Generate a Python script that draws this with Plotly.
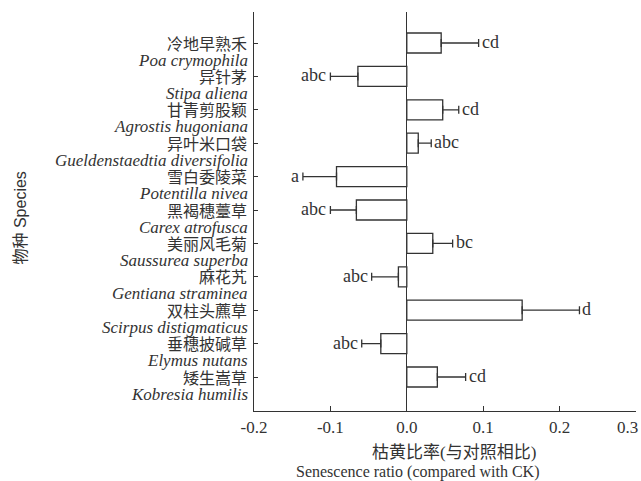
import plotly.graph_objects as go

# Species, top to bottom
species_cn = ["冷地早熟禾", "异针茅", "甘青剪股颖", "异叶米口袋", "雪白委陵菜",
              "黑褐穗薹草", "美丽风毛菊", "麻花艽", "双柱头藨草", "垂穗披碱草", "矮生嵩草"]
species_lat = ["Poa crymophila", "Stipa aliena", "Agrostis hugoniana",
               "Gueldenstaedtia diversifolia", "Potentilla nivea", "Carex atrofusca",
               "Saussurea superba", "Gentiana straminea", "Scirpus distigmaticus",
               "Elymus nutans", "Kobresia humilis"]
ratio = [0.045, -0.064, 0.047, 0.015, -0.092, -0.066, 0.034, -0.011, 0.151, -0.034, 0.040]
err = [0.049, 0.036, 0.021, 0.017, 0.044, 0.034, 0.026, 0.035, 0.075, 0.025, 0.037]
letters = ["cd", "abc", "cd", "abc", "a", "abc", "bc", "abc", "d", "abc", "cd"]
x_ticks = [-0.2, -0.1, 0.0, 0.1, 0.2, 0.3]
x_tick_labels = ["-0.2", "-0.1", "0.0", "0.1", "0.2", "0.3"]

INK = "#333333"
SERIF = "Liberation Serif, Times New Roman, Noto Sans CJK SC, serif"
SANS = "Liberation Sans, Arial, Noto Sans CJK SC, sans-serif"

err_plus = [e if v >= 0 else 0 for v, e in zip(ratio, err)]
err_minus = [e if v < 0 else 0 for v, e in zip(ratio, err)]
# keep the last label inside the page edge (as in the original, it sits left of its tick)
tick_text = x_tick_labels[:-1] + [x_tick_labels[-1] + "\u00a0" * 4]

fig = go.Figure()
fig.add_trace(go.Bar(
    x=ratio, y=species_lat, orientation="h", width=0.6,
    marker=dict(color="white", line=dict(color=INK, width=1.3)),
    error_x=dict(type="data", symmetric=False, array=err_plus, arrayminus=err_minus,
                 color=INK, thickness=1.3, width=4),
    showlegend=False, hoverinfo="x+y",
))

ann = []
for cn, lat in zip(species_cn, species_lat):
    ann.append(dict(xref="paper", x=0, xanchor="right", xshift=-5,
                    yref="y", y=lat, yanchor="middle", yshift=-1,
                    text=cn, showarrow=False,
                    font=dict(family=SERIF, size=16, color=INK)))
    ann.append(dict(xref="paper", x=0, xanchor="right", xshift=-4,
                    yref="y", y=lat, yanchor="middle", yshift=-17,
                    text="<i>" + lat + "</i>", showarrow=False,
                    font=dict(family=SERIF, size=17, color=INK)))

for v, e, lab, lat in zip(ratio, err, letters, species_lat):
    end = v + e if v >= 0 else v - e
    ann.append(dict(xref="x", x=end, yref="y", y=lat,
                    xanchor="left" if v >= 0 else "right",
                    xshift=1 if v >= 0 else -2, yanchor="middle", yshift=1,
                    text=lab, showarrow=False,
                    font=dict(family=SERIF, size=18, color=INK)))

# axis titles
ann.append(dict(xref="paper", x=0, xshift=-234, xanchor="center",
                yref="paper", y=0.5, yshift=-7, yanchor="middle", textangle=-90,
                text="物种 Species", showarrow=False,
                font=dict(family=SANS, size=16, color=INK)))
ann.append(dict(xref="paper", x=0.5, xshift=9, xanchor="center",
                yref="paper", y=0, yshift=-41, yanchor="middle",
                text="枯黄比率(与对照相比)", showarrow=False,
                font=dict(family=SERIF, size=17, color=INK)))
ann.append(dict(xref="paper", x=0.5, xshift=-28, xanchor="center",
                yref="paper", y=0, yshift=-61, yanchor="middle",
                text="Senescence ratio (compared with CK)", showarrow=False,
                font=dict(family=SERIF, size=16, color=INK)))

fig.update_layout(
    width=641, height=481,
    margin=dict(l=254, r=5, t=12, b=70),
    paper_bgcolor="white", plot_bgcolor="white",
    annotations=ann,
    bargap=0.4,
    xaxis=dict(range=[-0.2, 0.3], tickvals=x_ticks, ticktext=tick_text,
               ticklabeloverflow="allow", automargin=False,
               ticks="inside", ticklen=5, tickcolor=INK, tickwidth=1.2,
               showline=True, linecolor=INK, linewidth=1.3,
               showgrid=False, zeroline=True, zerolinecolor=INK, zerolinewidth=1.3,
               tickfont=dict(family=SERIF, size=17, color=INK)),
    yaxis=dict(type="category", categoryorder="array", categoryarray=species_lat,
               range=[10.0 + 34 / 33.4, -31 / 33.4], automargin=False,
               ticks="inside", ticklen=4, tickcolor=INK, tickwidth=1.2,
               showline=True, linecolor=INK, linewidth=1.3,
               showgrid=False, showticklabels=False, zeroline=False),
)

fig.write_html("out.html", config={"displayModeBar": False},
               post_script="document.body.style.margin='0';"
                           "document.body.style.overflow='hidden';")
